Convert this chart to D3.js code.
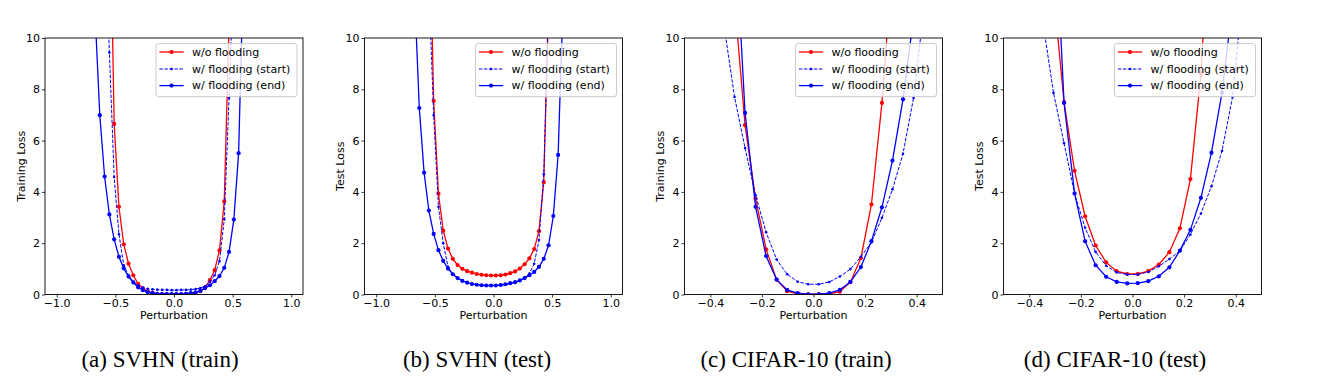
<!DOCTYPE html>
<html><head><meta charset="utf-8">
<script src="https://cdn.jsdelivr.net/npm/d3@7"></script>
<style>body{margin:0;background:#fff} svg{display:block}</style>
</head><body>
<svg id="chart" width="1318" height="378"></svg>
<script>
// perturbation grid (shared by every series)
const perturbation = [-0.6735,-0.6327,-0.5918,-0.5510,-0.5102,-0.4694,-0.4286,-0.3878,-0.3469,-0.3061,-0.2653,-0.2245,-0.1837,-0.1429,-0.1020,-0.0612,-0.0204,0.0204,0.0612,0.1020,0.1429,0.1837,0.2245,0.2653,0.3061,0.3469,0.3878,0.4286,0.4694,0.5102,0.5510,0.5918,0.6327];

const seriesNames = ["w/o flooding", "w/ flooding (start)", "w/ flooding (end)"];

// (a) SVHN train
const svhnTrainWithout = [null,null,null,17,6.65,3.42,1.96,1.2,0.75,0.42,0.24,0.12,0.06,0.03,0.02,0.01,0.01,0.01,0.01,0.02,0.03,0.06,0.13,0.27,0.56,0.95,1.72,3.63,10.5,null,null,null,null];
const svhnTrainStart   = [null,null,15,9.43,4.58,2.35,1.14,0.75,0.5,0.36,0.27,0.22,0.2,0.19,0.18,0.18,0.17,0.17,0.18,0.18,0.19,0.21,0.25,0.32,0.5,0.75,1.3,2.93,7.66,13,null,null,null];
const svhnTrainEnd     = [11.0,6.99,4.6,3.12,2.15,1.47,1.02,0.7,0.47,0.28,0.17,0.09,0.05,0.03,0.02,0.02,0.02,0.02,0.02,0.03,0.05,0.08,0.14,0.25,0.36,0.52,0.72,1.04,1.66,2.92,5.51,12.7,null];
// (b) SVHN test
const svhnTestWithout = [null,null,null,16,7.55,3.93,2.49,1.79,1.39,1.15,1.0,0.91,0.85,0.8,0.77,0.75,0.74,0.74,0.75,0.78,0.83,0.9,1.01,1.18,1.41,1.77,2.47,4.38,11.5,null,null,null,null];
const svhnTestStart   = [null,null,null,12,6.99,3.42,2.0,1.08,0.8,0.64,0.53,0.46,0.41,0.38,0.36,0.35,0.35,0.35,0.36,0.39,0.43,0.47,0.54,0.66,0.82,1.2,2.12,4.69,11,null,null,null,null];
const svhnTestEnd     = [11.8,7.27,4.75,3.27,2.36,1.73,1.31,1.01,0.79,0.64,0.53,0.46,0.41,0.38,0.36,0.35,0.35,0.35,0.37,0.4,0.44,0.48,0.55,0.64,0.75,0.88,1.08,1.39,1.92,3.06,5.44,11.2,null];
// (c) CIFAR-10 train
const cifarTrainWithout = [null,null,null,null,null,null,null,null,null,11.5,6.6,3.74,1.76,0.58,0.13,0.03,0.01,0.01,0.03,0.11,0.48,1.42,3.51,7.47,13,null,null,null,null,null,null,null,null];
const cifarTrainStart   = [null,null,null,null,null,null,null,14,10.5,7.7,5.71,3.87,2.43,1.36,0.79,0.5,0.4,0.4,0.49,0.7,0.99,1.47,2.03,2.99,4.1,5.49,7.66,11.2,null,null,null,null,null];
const cifarTrainEnd     = [null,null,null,null,null,null,null,null,null,14.7,7.08,3.42,1.5,0.58,0.18,0.05,0.01,0.01,0.05,0.18,0.49,1.07,2.08,3.4,5.22,7.61,10.8,null,null,null,null,null,null];
// (d) CIFAR-10 test
const cifarTestWithout = [null,null,null,null,null,null,null,null,null,11.8,7.5,4.82,3.05,1.91,1.25,0.91,0.8,0.8,0.91,1.17,1.65,2.58,4.5,8.6,16,null,null,null,null,null,null,null,null];
const cifarTestStart   = [null,null,null,null,null,null,null,14,10.6,7.86,5.9,3.93,2.6,1.66,1.12,0.86,0.78,0.78,0.88,1.1,1.38,1.7,2.34,3.16,4.22,5.6,7.7,11.9,null,null,null,null,null];
const cifarTestEnd     = [null,null,null,null,null,null,null,null,null,16,7.47,3.94,2.08,1.14,0.69,0.49,0.43,0.44,0.52,0.71,1.06,1.71,2.52,3.77,5.53,7.87,11.3,null,null,null,null,null,null];

const yTicks = [0, 2, 4, 6, 8, 10];
const svhnXTicks = [-1.0, -0.5, 0.0, 0.5, 1.0];
const cifarXTicks = [-0.4, -0.2, 0.0, 0.2, 0.4];
const captions = ["(a) SVHN (train)", "(b) SVHN (test)", "(c) CIFAR-10 (train)", "(d) CIFAR-10 (test)"];
const yLabels = ["Training Loss", "Test Loss", "Training Loss", "Test Loss"];

const panels = [
  {left:45,     xDomain:[-1.1,1.1], xTicks:svhnXTicks,  capX:160,  data:[svhnTrainWithout, svhnTrainStart, svhnTrainEnd]},
  {left:364.5,  xDomain:[-1.1,1.1], xTicks:svhnXTicks,  capX:477,  data:[svhnTestWithout, svhnTestStart, svhnTestEnd]},
  {left:684.5,  xDomain:[-0.5,0.5], xTicks:cifarXTicks, capX:796,  data:[cifarTrainWithout, cifarTrainStart, cifarTrainEnd]},
  {left:1003.5, xDomain:[-0.5,0.5], xTicks:cifarXTicks, capX:1115, data:[cifarTestWithout, cifarTestStart, cifarTestEnd]}
];

const styles = [
  {color:"#ff0000", width:1.3, dash:null, r:2.1},
  {color:"#0000ff", width:1.0, dash:"3.5,1.5", r:1.3},
  {color:"#0000ff", width:1.3, dash:null, r:2.1}
];

const W = 258, H = 256.5, TOP = 38;
const FONT = "'DejaVu Sans', sans-serif";
const svg = d3.select("#chart");

panels.forEach((p, pi) => {
  const g = svg.append("g").attr("transform", `translate(${p.left},${TOP})`);
  const x = d3.scaleLinear().domain(p.xDomain).range([0, W]);
  const y = d3.scaleLinear().domain([0, 10]).range([H, 0]);

  const clipId = "clip" + pi;
  g.append("clipPath").attr("id", clipId).append("rect").attr("width", W).attr("height", H);
  const plot = g.append("g").attr("clip-path", `url(#${clipId})`);

  p.data.forEach((vals, si) => {
    const st = styles[si];
    const pts = perturbation.map((px, i) => [px, vals[i]]);
    const line = d3.line().defined(d => d[1] != null).x(d => x(d[0])).y(d => y(d[1]));
    plot.append("path").attr("d", line(pts)).attr("fill", "none")
      .attr("stroke", st.color).attr("stroke-width", st.width)
      .attr("stroke-dasharray", st.dash);
    plot.selectAll(null).data(pts.filter(d => d[1] != null)).enter().append("circle")
      .attr("cx", d => x(d[0])).attr("cy", d => y(d[1])).attr("r", st.r).attr("fill", st.color);
  });

  // axes
  const xa = g.append("g").attr("transform", `translate(0,${H})`)
    .call(d3.axisBottom(x).tickValues(p.xTicks).tickSize(3).tickPadding(2).tickFormat(d3.format(".1f")));
  const ya = g.append("g")
    .call(d3.axisLeft(y).tickValues(yTicks).tickSize(3).tickPadding(2).tickFormat(d3.format("d")));
  [xa, ya].forEach(a => {
    a.select(".domain").remove();
    a.selectAll("line").attr("stroke", "#000").attr("stroke-width", 0.8);
    a.selectAll("text").attr("font-family", FONT).attr("font-size", 11).attr("fill", "#000");
  });
  g.append("rect").attr("width", W).attr("height", H).attr("fill", "none")
    .attr("stroke", "#000").attr("stroke-width", 0.9);

  g.append("text").attr("x", W / 2).attr("y", H + 24.7).attr("text-anchor", "middle")
    .attr("font-family", FONT).attr("font-size", 11).text("Perturbation");
  g.append("text").attr("transform", `translate(-24,${H / 2}) rotate(-90)`)
    .attr("dy", "0.35em").attr("text-anchor", "middle")
    .attr("font-family", FONT).attr("font-size", 11).text(yLabels[pi]);

  // legend
  const lw = 141, lh = 53;
  const lg = g.append("g").attr("transform", `translate(${W - 6 - lw},5.6)`);
  lg.append("rect").attr("width", lw).attr("height", lh).attr("rx", 2.5)
    .attr("fill", "#fff").attr("fill-opacity", 0.8).attr("stroke", "#cccccc").attr("stroke-width", 1);
  const rowY = [8.4, 25.4, 42];
  seriesNames.forEach((name, si) => {
    const st = styles[si];
    lg.append("line").attr("x1", 3.4).attr("x2", 27.7).attr("y1", rowY[si]).attr("y2", rowY[si])
      .attr("stroke", st.color).attr("stroke-width", st.width).attr("stroke-dasharray", st.dash);
    lg.append("circle").attr("cx", 15.5).attr("cy", rowY[si]).attr("r", st.r).attr("fill", st.color);
    lg.append("text").attr("x", 36).attr("y", rowY[si]).attr("dy", "0.35em")
      .attr("font-family", FONT).attr("font-size", 11).attr("fill", "#000").text(name);
  });

  svg.append("text").attr("x", p.capX).attr("y", 367).attr("text-anchor", "middle")
    .attr("font-family", "'Liberation Serif', 'Times New Roman', serif").attr("font-size", 23)
    .attr("fill", "#000").text(captions[pi]);
});
</script>
</body></html>
